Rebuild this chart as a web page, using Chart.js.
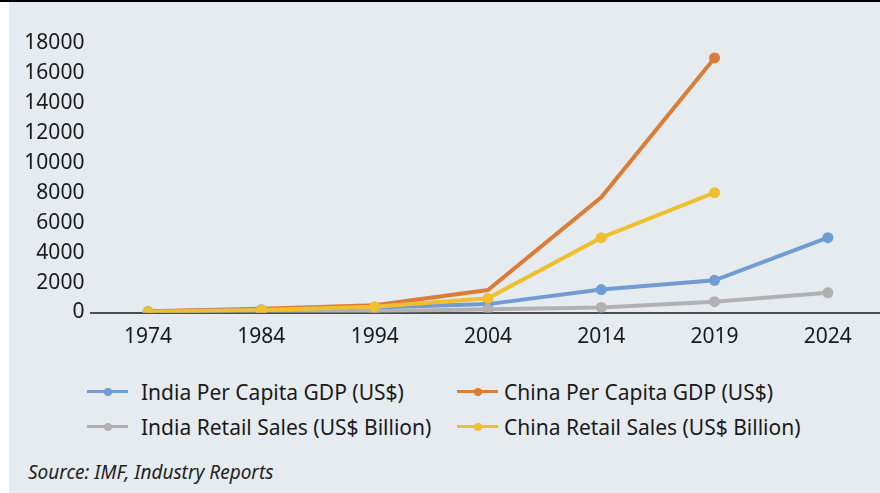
<!DOCTYPE html>
<html>
<head>
<meta charset="utf-8">
<script src="https://cdn.jsdelivr.net/npm/chart.js@4"></script>
<style>
  html, body { margin: 0; padding: 0; background: #ffffff; width: 880px; height: 493px; overflow: hidden; }
  #panel { position: absolute; left: 9px; top: 0; width: 871px; height: 493px; background: #e6ebf0; }
  #topline { position: absolute; left: 0; top: 0; width: 880px; height: 2px; background: #000; }
  #wrap { position: absolute; left: 0; top: 0; width: 890px; height: 360px; }
  #legend { position: absolute; left: 87px; top: 374px; width: 760px; font-family: "Noto Sans", sans-serif; font-size: 21px; color: #1a1a1a; }
  .item { position: absolute; display: flex; align-items: center; height: 35px; white-space: nowrap; }
  .sym { position: relative; width: 41px; height: 3.5px; margin-right: 13px; }
  .sym i { position: absolute; left: 16.5px; top: -2.25px; width: 8px; height: 8px; border-radius: 50%; }
  #source { position: absolute; left: 28px; top: 461px; font-family: "Noto Sans", sans-serif; font-style: italic; font-size: 19px; line-height: 22px; color: #222; }
</style>
</head>
<body>
<div id="panel"></div>
<div id="topline"></div>
<div id="wrap"><canvas id="c"></canvas></div>
<div id="legend"></div>
<div id="source">Source: IMF, Industry Reports</div>
<script>
const years = ['1974', '1984', '1994', '2004', '2014', '2019', '2024'];
const indiaGDP = [60, 190, 330, 560, 1530, 2150, 5000];
const chinaGDP = [80, 250, 480, 1500, 7700, 17000, null];
const indiaRetail = [20, 50, 90, 210, 340, 720, 1320];
const chinaRetail = [50, 170, 390, 950, 5000, 8000, null];
const seriesNames = ['India Per Capita GDP (US$)', 'China Per Capita GDP (US$)', 'India Retail Sales (US$ Billion)', 'China Retail Sales (US$ Billion)'];
const yTicks = [0, 2000, 4000, 6000, 8000, 10000, 12000, 14000, 16000, 18000];

const BLUE = '#709bd3', ORANGE = '#d97e38', GRAY = '#b1b1b3', YELLOW = '#f0bf2f';

function ds(label, data, color, order, radius) {
  return {
    label, data, order,
    borderColor: color, backgroundColor: color,
    pointBackgroundColor: color, pointBorderColor: color,
    borderWidth: 4, pointRadius: radius, pointBorderWidth: 0,
    pointHoverRadius: radius, tension: 0, spanGaps: false
  };
}

const datasets = [
  ds(seriesNames[0], indiaGDP, BLUE, 2, 5.5),
  ds(seriesNames[1], chinaGDP, ORANGE, 3, [0, 0, 0, 0, 0, 5.5, 0]),
  ds(seriesNames[2], indiaRetail, GRAY, 1, 5.5),
  ds(seriesNames[3], chinaRetail, YELLOW, 0, 5.5)
];

const FONT = { family: '"Noto Sans", sans-serif', size: 21 };

const chart = new Chart(document.getElementById('c'), {
  type: 'line',
  data: { labels: years, datasets },
  options: {
    responsive: true,
    maintainAspectRatio: false,
    animation: false,
    events: [],
    layout: { padding: { left: 0, right: 2, top: 43, bottom: 0 } },
    plugins: { legend: { display: false }, tooltip: { enabled: false } },
    scales: {
      x: {
        offset: true,
        grid: { display: false, drawTicks: false },
        border: { display: true, color: '#4d4d4d', width: 2 },
        ticks: { color: '#1a1a1a', font: FONT, padding: 12, maxRotation: 0, autoSkip: false },
        afterFit: s => { s.height = 47.5; }
      },
      y: {
        min: 0, max: 18000,
        grid: { display: false, drawTicks: false },
        border: { display: false },
        afterBuildTicks: s => { s.ticks = yTicks.map(v => ({ value: v })); },
        ticks: { color: '#1a1a1a', font: FONT, padding: 7, callback: v => String(v) },
        afterFit: s => { s.width = 91.4; }
      }
    }
  }
});

// HTML legend built from the chart's datasets (2 columns)
const legend = document.getElementById('legend');
chart.data.datasets.forEach((d, i) => {
  const item = document.createElement('div');
  item.className = 'item';
  item.style.left = (i % 2 === 0 ? 0 : 370) + 'px';
  item.style.top = (Math.floor(i / 2) * 35) + 'px';
  const sym = document.createElement('span');
  sym.className = 'sym';
  sym.style.background = d.borderColor;
  if (i % 2 === 1) sym.style.marginRight = '6px';
  const dot = document.createElement('i');
  dot.style.background = d.borderColor;
  sym.appendChild(dot);
  const txt = document.createElement('span');
  txt.textContent = d.label;
  item.appendChild(sym);
  item.appendChild(txt);
  legend.appendChild(item);
});
</script>
</body>
</html>
